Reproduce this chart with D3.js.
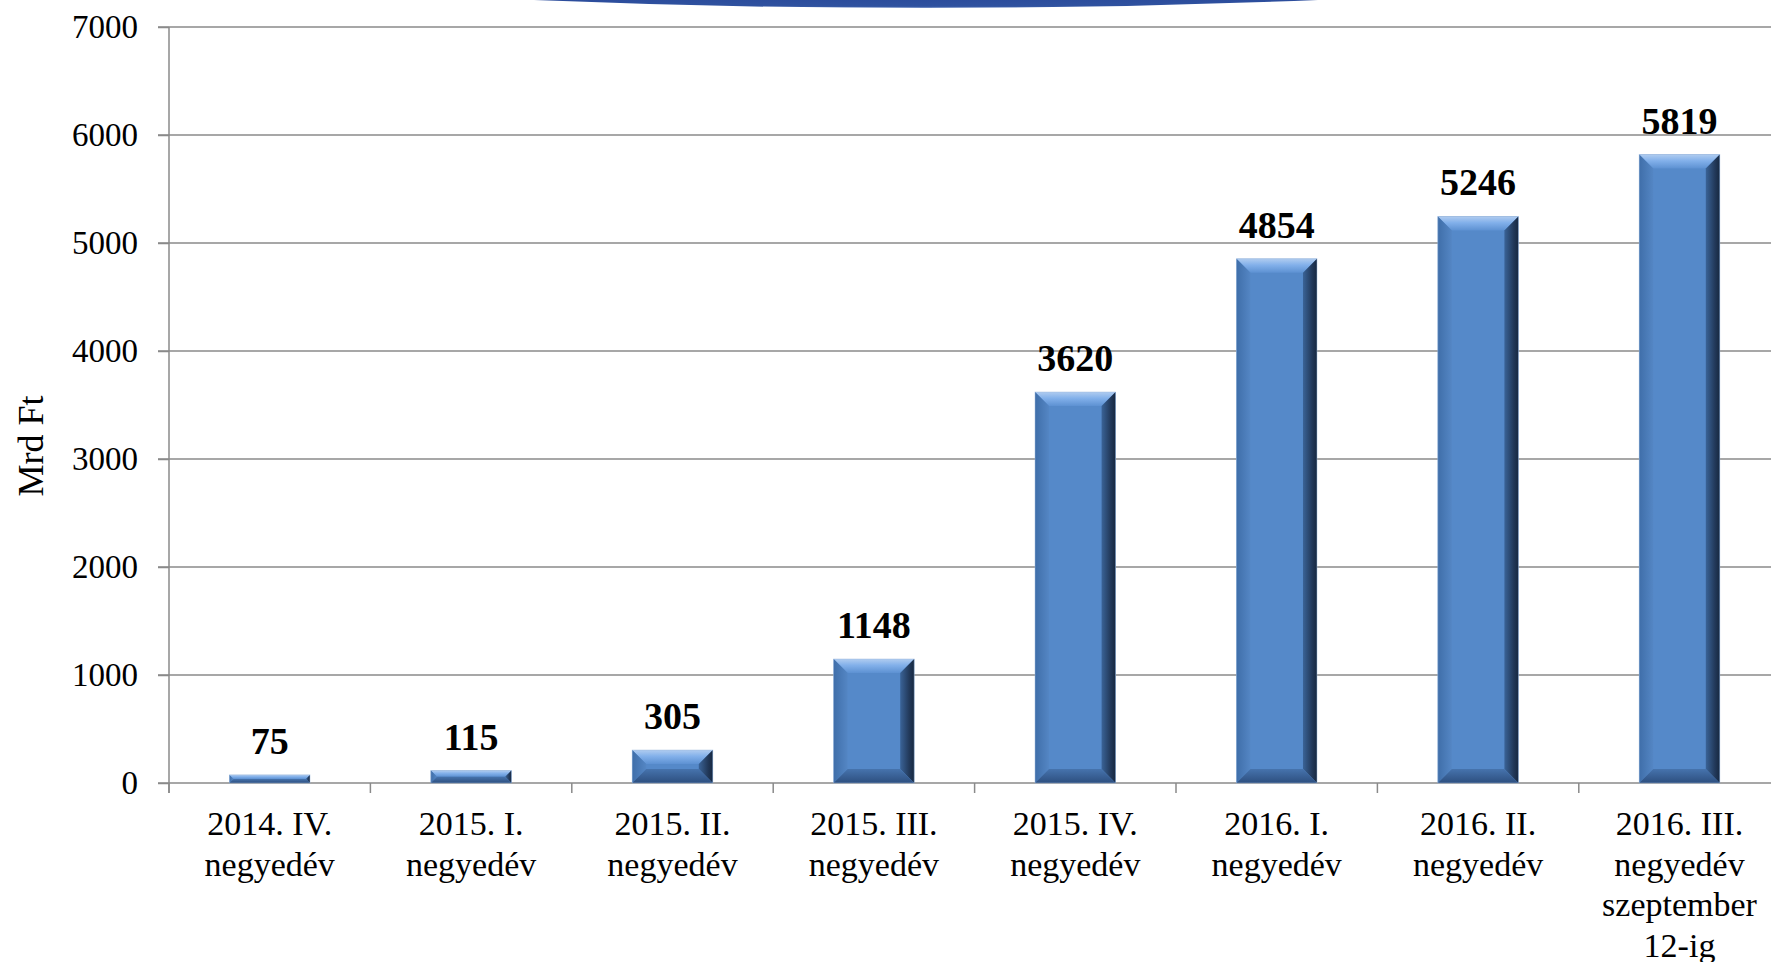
<!DOCTYPE html>
<html>
<head>
<meta charset="utf-8">
<script src="https://cdn.jsdelivr.net/npm/d3@7"></script>
<style>
  html, body { margin: 0; padding: 0; background: #fff; overflow: hidden; }
  svg { display: block; }
  text { font-family: "Liberation Serif", "Times New Roman", serif; fill: #000; }
</style>
</head>
<body>
<svg id="chart" width="1771" height="962"></svg>
<script>
const categories = [
  "2014. IV.\nnegyedév",
  "2015. I.\nnegyedév",
  "2015. II.\nnegyedév",
  "2015. III.\nnegyedév",
  "2015. IV.\nnegyedév",
  "2016. I.\nnegyedév",
  "2016. II.\nnegyedév",
  "2016. III.\nnegyedév\nszeptember\n12-ig"
];
const values = [75, 115, 305, 1148, 3620, 4854, 5246, 5819];
const yTicks = [0, 1000, 2000, 3000, 4000, 5000, 6000, 7000];
const yTitle = "Mrd Ft";

(function () {
const W = 1771, H = 962;
const mLeft = 169, mTop = 27, mBottom = 783;
const step = 201.4;

const svg = d3.select("#chart");
const defs = svg.append("defs");

function lin(id, x1, y1, x2, y2, stops) {
  const g = defs.append("linearGradient").attr("id", id)
    .attr("x1", x1).attr("y1", y1).attr("x2", x2).attr("y2", y2);
  stops.forEach(s => g.append("stop").attr("offset", s[0]).attr("stop-color", s[1]));
}
lin("gTop", 0, 0, 0, 1, [[0, "#b0ccf0"], [0.45, "#82b0ea"], [1, "#5d91d2"]]);
lin("gLeft", 0, 0, 1, 0, [[0, "#3f6ea9"], [1, "#5486c4"]]);
lin("gRight", 0, 0, 1, 0, [[0, "#3a6397"], [0.65, "#22395a"], [1, "#172840"]]);
lin("gBottom", 0, 0, 0, 1, [[0, "#4673ad"], [1, "#2d4f7f"]]);
lin("gArc", 0, 0, 0, 1, [[0, "#2c4d9c"], [0.8, "#2f52a0"], [1, "#7f98cc"]]);

const x = d3.scaleBand().domain(categories).range([mLeft, mLeft + step * categories.length]).padding(0);
const y = d3.scaleLinear().domain([0, 7000]).range([mBottom, mTop]);

// top decorative arc
svg.append("path")
  .attr("d", "M534,0 Q926,16 1318,0 Z")
  .attr("fill", "url(#gArc)");

// gridlines
svg.append("g").selectAll("line").data(yTicks.filter(d => d > 0)).join("line")
  .attr("x1", mLeft - 11).attr("x2", W)
  .attr("y1", d => y(d)).attr("y2", d => y(d))
  .attr("stroke", "#8a8a8a").attr("stroke-width", 1.5);

// Y axis
const yAxis = d3.axisLeft(y).tickValues(yTicks).tickSize(11).tickPadding(20).tickFormat(d3.format("d"));
const gy = svg.append("g").attr("transform", `translate(${mLeft},0)`).call(yAxis);
gy.select(".domain").remove();
gy.selectAll(".tick line").attr("stroke", "#8a8a8a").attr("stroke-width", 1.5);
gy.selectAll(".tick text").attr("font-size", 33).attr("font-family", "Liberation Serif").attr("fill", "#000").attr("dy", "0.33em");
svg.append("line").attr("x1", mLeft).attr("x2", mLeft).attr("y1", mTop).attr("y2", mBottom + 10)
  .attr("stroke", "#8a8a8a").attr("stroke-width", 1.5);

// X axis
svg.append("line").attr("x1", mLeft - 11).attr("x2", W).attr("y1", mBottom).attr("y2", mBottom)
  .attr("stroke", "#8a8a8a").attr("stroke-width", 1.5);
svg.append("g").selectAll("line").data(categories).join("line")
  .attr("x1", d => x(d)).attr("x2", d => x(d))
  .attr("y1", mBottom).attr("y2", mBottom + 10)
  .attr("stroke", "#8a8a8a").attr("stroke-width", 1.5);

// category labels
const lab = svg.append("g").selectAll("text").data(categories).join("text")
  .attr("text-anchor", "middle").attr("font-size", 34)
  .attr("x", d => x(d) + x.bandwidth() / 2)
  .attr("y", mBottom + 52);
lab.each(function(d) {
  const t = d3.select(this);
  d.split("\n").forEach((line, i) => {
    t.append("tspan").attr("x", x(d) + x.bandwidth() / 2).attr("dy", i === 0 ? 0 : 40.5).text(line);
  });
});

// bars
const bw = x.bandwidth() * 0.4;
const data = categories.map((c, i) => ({ c, v: values[i] }));
const bars = svg.append("g").selectAll("g").data(data).join("g");
bars.each(function(d) {
  const g = d3.select(this);
  const x0 = x(d.c) + (x.bandwidth() - bw) / 2, x1 = x0 + bw;
  const y0 = y(d.v), y1 = y(0);
  const h = y1 - y0;
  const b = Math.min(14, h / 2, bw / 2);
  g.append("rect").attr("x", x0).attr("y", y0).attr("width", bw).attr("height", h).attr("fill", "#5589c9");
  const poly = (pts, fill) => g.append("polygon").attr("points", pts.map(p => p.join(",")).join(" ")).attr("fill", fill);
  poly([[x0, y0], [x1, y0], [x1 - b, y0 + b], [x0 + b, y0 + b]], "url(#gTop)");
  poly([[x0, y0], [x0 + b, y0 + b], [x0 + b, y1 - b], [x0, y1]], "url(#gLeft)");
  poly([[x1, y0], [x1, y1], [x1 - b, y1 - b], [x1 - b, y0 + b]], "url(#gRight)");
  poly([[x0, y1], [x1, y1], [x1 - b, y1 - b], [x0 + b, y1 - b]], "url(#gBottom)");
  g.append("rect").attr("x", x0).attr("y", y0).attr("width", bw).attr("height", h)
    .attr("fill", "none").attr("stroke", "#9bb8dc").attr("stroke-width", 0.8).attr("stroke-opacity", 0.6);
});

// value labels
svg.append("g").selectAll("text").data(data).join("text")
  .attr("text-anchor", "middle").attr("font-weight", "bold").attr("font-size", 38)
  .attr("x", d => x(d.c) + x.bandwidth() / 2)
  .attr("y", d => y(d.v) - 21)
  .text(d => d.v);

// y title
svg.append("text")
  .attr("transform", `translate(43,446) rotate(-90)`)
  .attr("text-anchor", "middle").attr("font-size", 36)
  .text(yTitle);
})();
</script>
</body>
</html>
